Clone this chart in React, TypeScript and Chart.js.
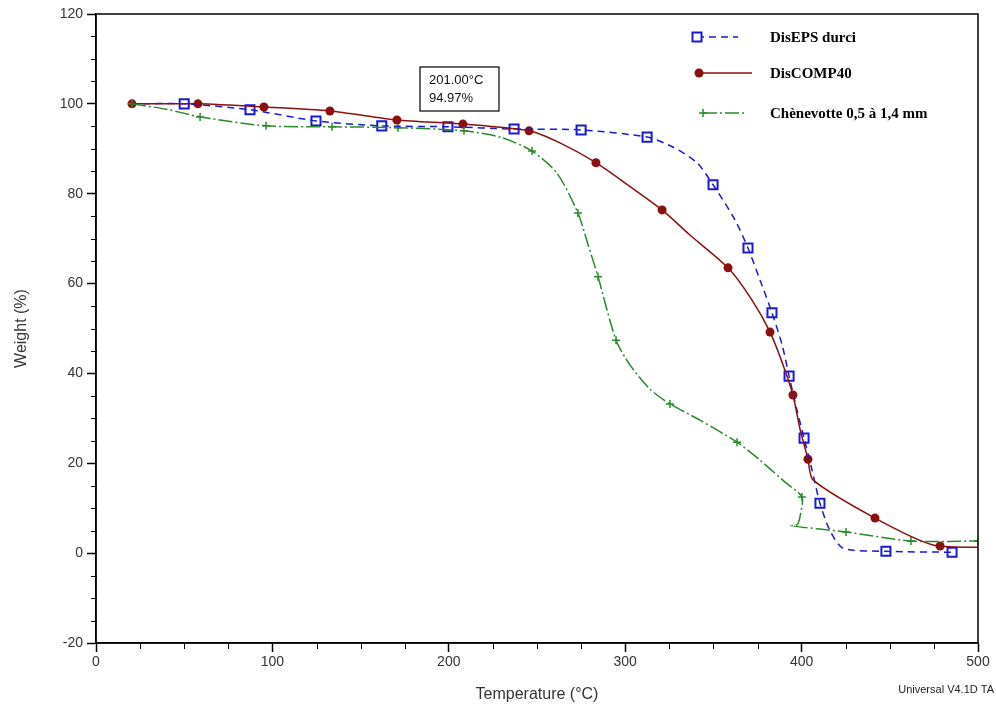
import React, { useEffect, useRef } from 'react';
import { Chart, registerables } from 'chart.js';

Chart.register(...registerables);

// Axis ticks
const xTickLabels = [0, 100, 200, 300, 400, 500];
const yTickLabels = [-20, 0, 20, 40, 60, 80, 100, 120];

const seriesNames = ['DisEPS durci', 'DisCOMP40', 'Chènevotte 0,5 à 1,4 mm'];

// DisEPS durci curve
const epsTemp = [20, 50, 87.3, 124.7, 162, 199.5, 237, 275, 312.4, 327, 340.7, 349.8, 362.2, 369.6, 376.4, 383.2, 389, 392.9, 397.4, 401.4, 405.9, 410.4, 416, 423.5, 447.8, 485.3];
const epsWeight = [100, 100, 98.7, 96.2, 95.1, 94.9, 94.4, 94.2, 92.6, 90.4, 86.9, 82, 74.2, 67.9, 60.8, 53.5, 46.3, 39.4, 31.8, 25.6, 18.5, 11.1, 5.1, 1.1, 0.4, 0.2];
const epsMarkTemp = [50, 87.3, 124.7, 162, 199.5, 237, 275, 312.4, 349.8, 369.6, 383.2, 392.9, 401.4, 410.4, 447.8, 485.3];
const epsMarkWeight = [100, 98.7, 96.2, 95.1, 94.9, 94.4, 94.2, 92.6, 82, 67.9, 53.5, 39.4, 25.6, 11.1, 0.4, 0.2];

// DisCOMP40 curve
const compTemp = [20.4, 57.8, 95.2, 132.6, 170.6, 208, 245.5, 263, 283.4, 302, 320.9, 336.7, 358.3, 371.9, 382.1, 389.5, 395.1, 399, 403.6, 406.5, 441.6, 474.5, 500];
const compWeight = [100, 100, 99.3, 98.4, 96.4, 95.5, 94, 91.3, 86.9, 81.8, 76.4, 70.8, 63.5, 56.3, 49.2, 41.9, 35.2, 27.8, 20.9, 16.3, 7.8, 1.8, 1.3];
const compMarkTemp = [20.4, 57.8, 95.2, 132.6, 170.6, 208, 245.5, 283.4, 320.9, 358.3, 382.1, 395.1, 403.6, 441.6, 478.5];
const compMarkWeight = [100, 100, 99.3, 98.4, 96.4, 95.5, 94, 86.9, 76.4, 63.5, 49.2, 35.2, 20.9, 7.8, 1.6];

// Chènevotte curve
const chenTemp = [20.4, 40, 59, 96.4, 133.8, 171.2, 208.6, 230, 247.2, 261.3, 273.2, 279, 284.6, 294.8, 302.7, 314, 325.4, 342.4, 363.4, 376.4, 390.6, 400.2, 399.3, 397.5, 394, 425.2, 462, 500];
const chenWeight = [100, 98.8, 97.1, 95.1, 94.9, 94.7, 94, 92.5, 89.5, 84.6, 75.7, 68.6, 61.5, 47.4, 41.9, 36.5, 33.2, 29.6, 24.7, 20.7, 15.8, 12.5, 8.5, 6.3, 6.1, 4.7, 2.7, 2.7];
const chenMarkTemp = [20.4, 59, 96.4, 133.8, 171.2, 208.6, 247.2, 273.2, 284.6, 294.8, 325.4, 363.4, 400.2, 425.2, 462, 500];
const chenMarkWeight = [100, 97.1, 95.1, 94.9, 94.7, 94, 89.5, 75.7, 61.5, 47.4, 33.2, 24.7, 12.5, 4.7, 2.7, 2.7];

const annotationLines = ['201.00°C', '94.97%'];
const footerText = 'Universal V4.1D TA';

const BLUE = '#1a1ad6';
const RED = '#8b1010';
const GREEN = '#2a8a2a';

const pts = (xs: number[], ys: number[]) => xs.map((x, i) => ({ x, y: ys[i] }));

function drawMarker(ctx: CanvasRenderingContext2D, kind: string, x: number, y: number) {
  ctx.save();
  ctx.setLineDash([]);
  if (kind === 'rect') {
    ctx.strokeStyle = BLUE;
    ctx.lineWidth = 2;
    ctx.fillStyle = '#fff';
    ctx.fillRect(x - 4.5, y - 4.5, 9, 9);
    ctx.strokeRect(x - 4.5, y - 4.5, 9, 9);
  } else if (kind === 'circle') {
    ctx.fillStyle = RED;
    ctx.beginPath();
    ctx.arc(x, y, 4.5, 0, Math.PI * 2);
    ctx.fill();
  } else {
    ctx.strokeStyle = GREEN;
    ctx.lineWidth = 1.5;
    ctx.beginPath();
    ctx.moveTo(x - 4, y); ctx.lineTo(x + 4, y);
    ctx.moveTo(x, y - 4); ctx.lineTo(x, y + 4);
    ctx.stroke();
  }
  ctx.restore();
}

const isMajorX = (v: number) => xTickLabels.includes(v);
const isMajorY = (v: number) => yTickLabels.includes(v);

const overlayPlugin = {
  id: 'overlay',
  afterDraw(chart: any) {
    const ctx: CanvasRenderingContext2D = chart.ctx;
    const a = chart.chartArea;
    ctx.save();
    // plot frame
    ctx.strokeStyle = '#000';
    ctx.lineWidth = 1.5;
    ctx.setLineDash([]);
    ctx.strokeRect(a.left, a.top, a.right - a.left, a.bottom - a.top);

    // minor ticks
    ctx.lineWidth = 1;
    const xs = chart.scales.x, ys = chart.scales.y;
    ctx.beginPath();
    xs.ticks.forEach((t: any) => {
      if (isMajorX(t.value)) return;
      const px = Math.round(xs.getPixelForValue(t.value)) + 0.5;
      ctx.moveTo(px, a.bottom - 1);
      ctx.lineTo(px, a.bottom + 6);
    });
    ys.ticks.forEach((t: any) => {
      if (isMajorY(t.value)) return;
      const py = Math.round(ys.getPixelForValue(t.value)) + 0.5;
      ctx.moveTo(a.left - 5, py);
      ctx.lineTo(a.left + 1, py);
    });
    ctx.stroke();

    // legend
    const legend = [
      { kind: 'rect', color: BLUE, dash: [7, 5], mx: a.right - 281, x2: a.right - 240, y: a.top + 23 },
      { kind: 'circle', color: RED, dash: [], mx: a.right - 279, x2: a.right - 226, y: a.top + 59 },
      { kind: 'star', color: GREEN, dash: [14, 3, 2, 3], mx: a.right - 275, x2: a.right - 233, y: a.top + 99 },
    ];
    legend.forEach((l, i) => {
      ctx.save();
      ctx.strokeStyle = l.color;
      ctx.lineWidth = 1.5;
      ctx.setLineDash(l.dash);
      ctx.beginPath();
      ctx.moveTo(l.mx, l.y);
      ctx.lineTo(l.x2, l.y);
      ctx.stroke();
      ctx.restore();
      drawMarker(ctx, l.kind, l.mx, l.y);
      ctx.fillStyle = '#000';
      ctx.font = 'bold 15px "Liberation Serif", serif';
      ctx.textAlign = 'left';
      ctx.textBaseline = 'middle';
      ctx.fillText(seriesNames[i], a.right - 208, l.y + 1);
    });

    // annotation box
    const bx = a.left + 324, by = a.top + 53, bw = 79, bh = 44;
    ctx.fillStyle = '#fff';
    ctx.fillRect(bx, by, bw, bh);
    ctx.strokeStyle = '#000';
    ctx.lineWidth = 1.2;
    ctx.strokeRect(bx, by, bw, bh);
    ctx.fillStyle = '#111';
    ctx.font = '13px "Liberation Sans", Arial, sans-serif';
    ctx.textAlign = 'left';
    ctx.textBaseline = 'middle';
    ctx.fillText(annotationLines[0], bx + 9, by + 13);
    ctx.fillText(annotationLines[1], bx + 9, by + 31);

    // footer
    ctx.font = '11px "Liberation Sans", Arial, sans-serif';
    ctx.textAlign = 'right';
    ctx.fillStyle = '#222';
    ctx.fillText(footerText, chart.width - 2, chart.height - 14);
    ctx.restore();
  },
};

export default function App() {
  const ref = useRef<HTMLCanvasElement | null>(null);
  useEffect(() => {
    if (!ref.current) return;
    const lineDs = (label: string, xs: number[], ys: number[], color: string, dash: number[]) => ({
      label,
      data: pts(xs, ys),
      showLine: true,
      borderColor: color,
      borderWidth: 1.5,
      borderDash: dash,
      pointRadius: 0,
      tension: 0.25,
      fill: false,
    });
    const markDs = (label: string, xs: number[], ys: number[], color: string, style: string, r: number, bg: string) => ({
      label,
      data: pts(xs, ys),
      showLine: false,
      pointStyle: style,
      pointRadius: r,
      borderColor: color,
      backgroundColor: bg,
      borderWidth: style === 'circle' ? 0 : style === 'rect' ? 2 : 1.5,
    });
    const chart = new Chart(ref.current, {
      type: 'scatter',
      data: {
        datasets: [
          lineDs(seriesNames[2], chenTemp, chenWeight, GREEN, [14, 3, 2, 3]),
          lineDs(seriesNames[1], compTemp, compWeight, RED, []),
          lineDs(seriesNames[0], epsTemp, epsWeight, BLUE, [7, 5]),
          markDs(seriesNames[2] + ' m', chenMarkTemp, chenMarkWeight, GREEN, 'cross', 4, GREEN),
          markDs(seriesNames[1] + ' m', compMarkTemp, compMarkWeight, RED, 'circle', 4.5, RED),
          markDs(seriesNames[0] + ' m', epsMarkTemp, epsMarkWeight, BLUE, 'rect', 6.4, 'rgba(255,255,255,0)'),
        ] as any,
      },
      options: {
        responsive: false,
        animation: false,
        layout: { padding: { left: 0, top: 14, right: 18, bottom: 0 } },
        plugins: { legend: { display: false }, tooltip: { enabled: false } },
        scales: {
          x: {
            type: 'linear',
            min: xTickLabels[0],
            max: xTickLabels[xTickLabels.length - 1],
            afterFit: (s: any) => { s.height = 61; },
            ticks: {
              stepSize: 25,
              autoSkip: false,
              maxRotation: 0,
              padding: 2,
              color: '#333',
              font: { family: '"Liberation Sans", Arial, sans-serif', size: 14 },
              callback: (v: any) => (isMajorX(Number(v)) ? String(v) : ''),
            },
            grid: {
              drawOnChartArea: false,
              drawTicks: true,
              tickLength: 9,
              tickWidth: 1.5,
              tickColor: (c: any) => (c.tick && isMajorX(c.tick.value) ? '#000' : 'rgba(0,0,0,0)'),
            },
            border: { color: '#000', width: 1.5 },
            title: {
              display: true,
              text: 'Temperature (°C)',
              color: '#333',
              font: { family: '"Liberation Sans", Arial, sans-serif', size: 16 },
              padding: { top: 3, bottom: 0 },
            },
          },
          y: {
            type: 'linear',
            min: yTickLabels[0],
            max: yTickLabels[yTickLabels.length - 1],
            afterFit: (s: any) => { s.width = 96; },
            ticks: {
              stepSize: 5,
              autoSkip: false,
              padding: 4,
              color: '#333',
              font: { family: '"Liberation Sans", Arial, sans-serif', size: 14 },
              callback: (v: any) => (isMajorY(Number(v)) ? String(v) : ''),
            },
            grid: {
              drawOnChartArea: false,
              drawTicks: true,
              tickLength: 9,
              tickWidth: 1.5,
              tickColor: (c: any) => (c.tick && isMajorY(c.tick.value) ? '#000' : 'rgba(0,0,0,0)'),
            },
            border: { color: '#000', width: 1.5 },
            title: {
              display: true,
              text: 'Weight (%)',
              color: '#333',
              font: { family: '"Liberation Sans", Arial, sans-serif', size: 16 },
              padding: { top: 12, bottom: 0 },
            },
          },
        },
      } as any,
      plugins: [overlayPlugin],
    });
    return () => chart.destroy();
  }, []);
  return (
    <div style={{ position: 'absolute', left: 0, top: 0, width: 996, height: 704, background: '#fff' }}>
      <canvas ref={ref} width={996} height={704} />
    </div>
  );
}
